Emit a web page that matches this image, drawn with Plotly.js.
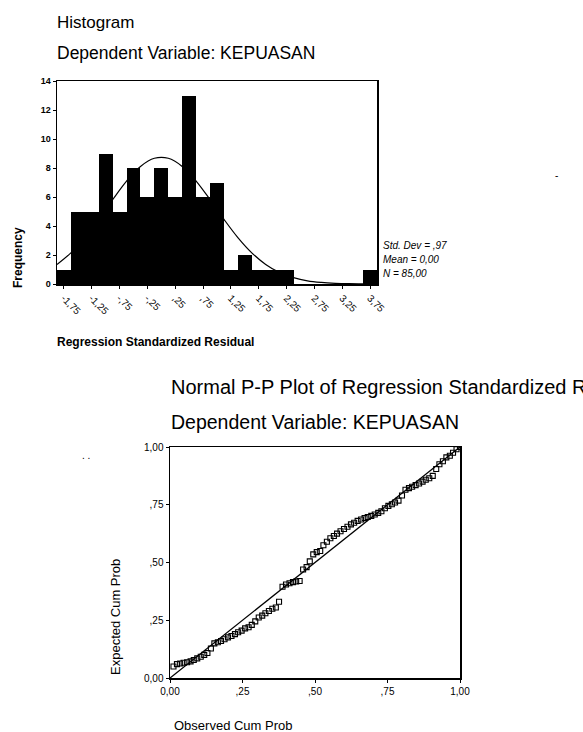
<!DOCTYPE html>
<html>
<head>
<meta charset="utf-8">
<script src="https://cdn.plot.ly/plotly-3.0.1.min.js"></script>
<style>html,body{margin:0;padding:0;background:#fff;}#chart{width:583px;height:732px;}</style>
</head>
<body>
<div id="chart"></div>
<script>
// ---- Histogram data ----
var binCenters = [-1.75,-1.5,-1.25,-1.0,-0.75,-0.5,-0.25,0,0.25,0.5,0.75,1.0,1.25,1.5,1.75,2.0,2.25,2.5,2.75,3.0,3.25,3.5,3.75];
var binCounts  = [1,5,5,9,5,8,6,8,6,13,6,7,1,2,1,1,1,0,0,0,0,0,1];
var histTickVals = [-1.75,-1.25,-0.75,-0.25,0.25,0.75,1.25,1.75,2.25,2.75,3.25,3.75];
var histTickText = ["-1,75","-1,25","-,75","-,25",",25",",75","1,25","1,75","2,25","2,75","3,25","3,75"];
var freqTickVals = [0,2,4,6,8,10,12,14];
// normal curve
var curveX = [-1.875,-1.625,-1.375,-1.125,-0.875,-0.625,-0.375,-0.125,0.125,0.375,0.625,0.875,1.125,1.375,1.625,1.875,2.125,2.375,2.625,2.875,3.125,3.375,3.625,3.875];
var curveY = [1.35,2.15,3.2,4.46,5.82,7.1,8.11,8.67,8.67,8.11,7.1,5.82,4.46,3.2,2.15,1.35,0.79,0.44,0.22,0.11,0.05,0.02,0.01,0.0];
var statLines = ["Std. Dev = ,97","Mean = 0,00","N = 85,00"];

// ---- P-P plot data ----
var obsCum = [0.012,0.024,0.035,0.047,0.059,0.071,0.082,0.094,0.106,0.118,0.129,0.141,0.153,0.165,0.176,0.188,0.200,0.212,0.224,0.235,0.247,0.259,0.271,0.282,0.294,0.306,0.318,0.329,0.341,0.353,0.365,0.376,0.388,0.400,0.412,0.424,0.435,0.447,0.459,0.471,0.482,0.494,0.506,0.518,0.529,0.541,0.553,0.565,0.576,0.588,0.600,0.612,0.624,0.635,0.647,0.659,0.671,0.682,0.694,0.706,0.718,0.729,0.741,0.753,0.765,0.776,0.788,0.800,0.812,0.824,0.835,0.847,0.859,0.871,0.882,0.894,0.906,0.918,0.929,0.941,0.953,0.965,0.976,0.988,1.000];
var expCum = [0.050,0.060,0.063,0.066,0.068,0.072,0.078,0.085,0.092,0.100,0.108,0.128,0.150,0.155,0.160,0.168,0.176,0.182,0.190,0.198,0.205,0.215,0.220,0.230,0.245,0.262,0.270,0.280,0.290,0.300,0.305,0.330,0.395,0.405,0.410,0.415,0.418,0.420,0.470,0.480,0.505,0.535,0.545,0.550,0.575,0.590,0.605,0.615,0.625,0.635,0.645,0.655,0.665,0.672,0.680,0.686,0.692,0.697,0.702,0.708,0.715,0.722,0.735,0.745,0.752,0.760,0.768,0.790,0.815,0.822,0.828,0.835,0.842,0.850,0.858,0.865,0.875,0.905,0.925,0.938,0.955,0.962,0.975,0.990,1.000];
var diagX = [0,1];
var diagY = [0,1];
var ppTickVals = [0,0.25,0.5,0.75,1];
var ppTickText = ["0,00",",25",",50",",75","1,00"];

var W = 583, H = 732;
function px(x){return x/W;}
function py(y){return 1-y/H;}
var FONT = "Arial, 'Liberation Sans', sans-serif";

var traces = [
  {type:'bar', x:binCenters, y:binCounts, width:0.25, marker:{color:'#000', line:{width:0}}, xaxis:'x', yaxis:'y', hoverinfo:'skip'},
  {type:'scatter', mode:'lines', x:curveX, y:curveY, line:{color:'#000', width:1.2, shape:'spline'}, xaxis:'x', yaxis:'y', hoverinfo:'skip'},
  {type:'scatter', mode:'lines', x:diagX, y:diagY, line:{color:'#000', width:1.3}, xaxis:'x2', yaxis:'y2', hoverinfo:'skip'},
  {type:'scatter', mode:'markers', x:obsCum, y:expCum, marker:{symbol:'square-open', size:5, color:'#000', line:{width:1.1}}, xaxis:'x2', yaxis:'y2', hoverinfo:'skip'}
];

function ann(text, x, y, size, opts){
  var a = {text:text, x:px(x), y:py(y), xref:'paper', yref:'paper', showarrow:false,
    xanchor:'left', yanchor:'middle', font:{family:FONT, size:size, color:'#000'}};
  if(opts){for(var k in opts){ if(k==='font'){for(var f in opts.font)a.font[f]=opts.font[f];} else a[k]=opts[k]; }}
  return a;
}

var annotations = [
  ann('Histogram', 55, 23, 17),
  ann('Dependent Variable: KEPUASAN', 55, 53, 17.5),
  ann('Frequency', 18, 258, 12, {textangle:-90, xanchor:'center', font:{weight:'bold'}}),
  ann('Regression Standardized Residual', 55, 342, 12, {font:{weight:'bold'}}),
  ann('<i>'+statLines[0]+'</i>', 381, 245, 10),
  ann('<i>'+statLines[1]+'</i>', 381, 259, 10),
  ann('<i>'+statLines[2]+'</i>', 381, 273, 10),
  ann('Normal P-P Plot of Regression Standardized Residual', 169, 387, 20),
  ann('Dependent Variable: KEPUASAN', 169, 422, 19.5),
  ann('Expected Cum Prob', 115, 617, 13, {textangle:-90, xanchor:'center'}),
  ann('Observed Cum Prob', 172, 725, 13),
  ann('. .', 80, 455, 10),
  ann('-', 553, 175, 10)
];

var layout = {
  width: W, height: H,
  margin:{l:0,r:0,t:0,b:0},
  paper_bgcolor:'#fff', plot_bgcolor:'#fff',
  showlegend:false,
  bargap:0,
  font:{family:FONT, color:'#000'},
  xaxis:{domain:[px(57),px(377)], range:[-1.875,3.875], tickvals:histTickVals, ticktext:histTickText,
    tickangle:45, tickfont:{size:10, family:FONT}, showline:true, mirror:true, linecolor:'#000', linewidth:1.5,
    ticks:'outside', ticklen:3, tickcolor:'#000', showgrid:false, zeroline:false, anchor:'y'},
  yaxis:{domain:[py(284),py(81)], range:[0,14], tickvals:freqTickVals, tickfont:{size:9, family:FONT, weight:'bold'},
    showline:true, mirror:true, linecolor:'#000', linewidth:1.5, ticks:'outside', ticklen:3, tickcolor:'#000',
    showgrid:false, zeroline:false, anchor:'x'},
  xaxis2:{domain:[px(170),px(460)], range:[0,1], tickvals:ppTickVals, ticktext:ppTickText,
    tickfont:{size:10, family:FONT}, showline:true, mirror:true, linecolor:'#000', linewidth:1.5,
    ticks:'outside', ticklen:3, tickcolor:'#000', showgrid:false, zeroline:false, anchor:'y2'},
  yaxis2:{domain:[py(678),py(447)], range:[0,1], tickvals:ppTickVals, ticktext:ppTickText,
    tickfont:{size:10, family:FONT}, showline:true, mirror:true, linecolor:'#000', linewidth:1.5,
    ticks:'outside', ticklen:3, tickcolor:'#000', showgrid:false, zeroline:false, anchor:'x2'},
  annotations: annotations
};

Plotly.newPlot('chart', traces, layout, {displayModeBar:false, staticPlot:true});
</script>
</body>
</html>
